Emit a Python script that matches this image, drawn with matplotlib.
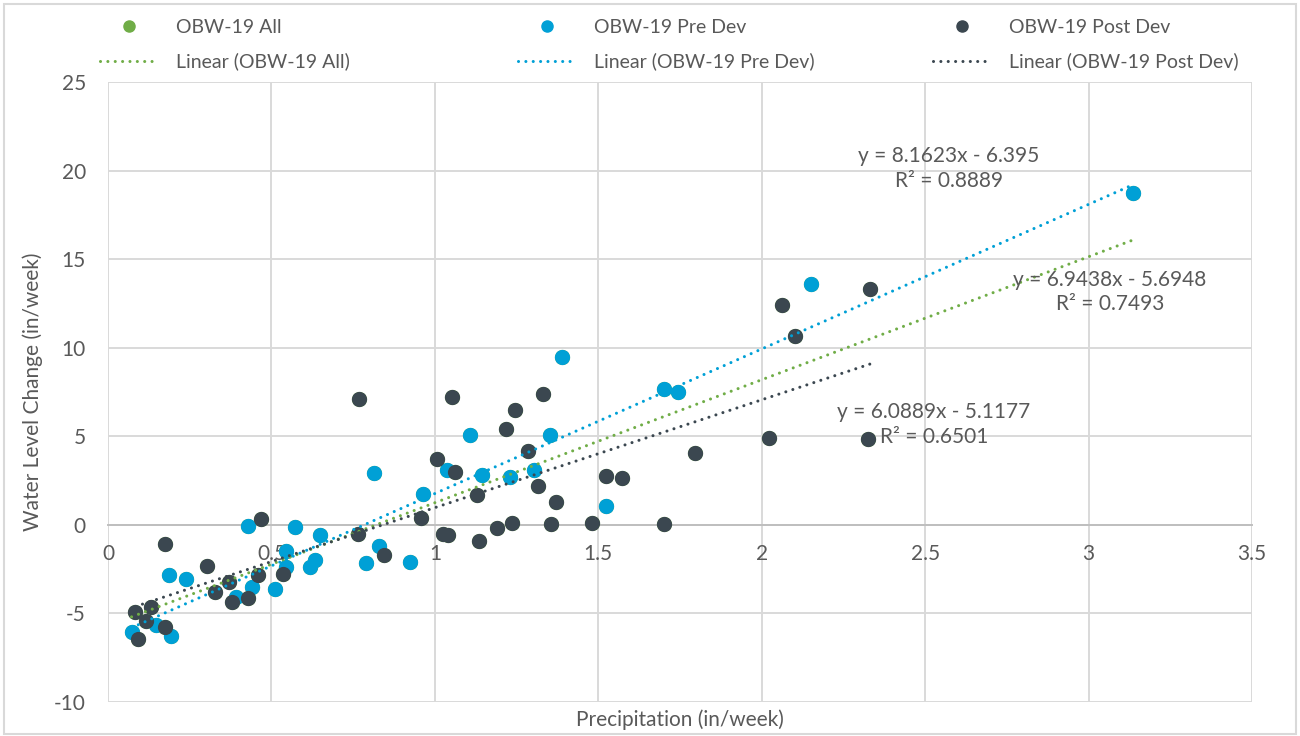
import matplotlib
matplotlib.use("Agg")
import matplotlib.pyplot as plt
import numpy as np
from matplotlib.lines import Line2D
from matplotlib.patches import Rectangle

plt.rcParams['font.family'] = ['Lato', 'DejaVu Sans']
plt.rcParams['axes.unicode_minus'] = False

# OBW-19 pre development (precip in/week, water level change in/week)
pre_x = [0.427, 0.573, 0.649, 0.546, 0.546, 0.633, 0.617, 0.187, 0.239, 0.512,
         0.439, 0.392, 0.147, 0.072, 0.194, 1.108, 1.353, 0.814, 1.037, 1.143,
         1.229, 1.304, 0.964, 0.829, 0.789, 0.925, 1.701, 1.744, 1.525, 2.150,
         3.136, 1.390]
pre_y = [-0.07, -0.14, -0.59, -1.50, -2.36, -2.00, -2.40, -2.85, -3.03, -3.62,
         -3.51, -4.08, -5.65, -6.05, -6.29, 5.07, 5.06, 2.91, 3.08, 2.80,
         2.70, 3.08, 1.72, -1.21, -2.18, -2.08, 7.69, 7.50, 1.05, 13.57,
         18.73, 9.47]

# OBW-19 post development
post_x = [0.469, 0.173, 0.304, 0.535, 0.459, 0.370, 0.328, 0.378, 0.427, 0.084,
          0.130, 0.116, 0.174, 0.092, 0.769, 1.052, 1.332, 1.244, 1.219, 1.005,
          1.284, 1.062, 1.315, 1.130, 1.371, 0.959, 0.765, 1.237, 1.354, 1.191,
          1.025, 1.040, 1.134, 0.843, 2.023, 1.797, 1.522, 1.571, 1.481, 1.700,
          2.332, 2.061, 2.102, 2.324]
post_y = [0.31, -1.08, -2.32, -2.78, -2.85, -3.21, -3.80, -4.37, -4.11, -4.93,
          -4.64, -5.44, -5.75, -6.43, 7.09, 7.22, 7.39, 6.47, 5.41, 3.72,
          4.15, 3.00, 2.21, 1.71, 1.29, 0.41, -0.54, 0.10, 0.03, -0.18,
          -0.54, -0.59, -0.93, -1.68, 4.92, 4.06, 2.74, 2.65, 0.12, 0.07,
          13.29, 12.40, 10.67, 4.83]

all_x = pre_x + post_x
all_y = pre_y + post_y

# trendline equations as printed on the chart
fits = {
    "all": (6.9438, -5.6948, 0.7493),
    "pre": (8.1623, -6.395, 0.8889),
    "post": (6.0889, -5.1177, 0.6501),
}

GREEN = "#70AD47"
BLUE = "#00A0D6"
DARK = "#3B4750"
TXT = "#595959"
GRID = "#D9D9D9"

fig = plt.figure(figsize=(13, 7.36), dpi=100)
ax = fig.add_axes([0.0831, 0.0462, 0.8800, 0.8424])

ax.set_xlim(0, 3.5)
ax.set_ylim(-10, 25)
ax.set_xticks(np.arange(0, 3.51, 0.5))
ax.set_yticks(np.arange(-10, 26, 5))
ax.set_xticklabels(["0", "0.5", "1", "1.5", "2", "2.5", "3", "3.5"])
ax.grid(True, color=GRID, lw=1.4, zorder=0)
ax.set_axisbelow(True)
for s in ["top", "right", "left"]:
    ax.spines[s].set_visible(False)
ax.spines["bottom"].set_position(("data", 0))
ax.spines["bottom"].set_color("#BFBFBF")
ax.spines["bottom"].set_linewidth(1.4)
ax.tick_params(axis="both", length=0, labelsize=15, labelcolor=TXT)
ax.tick_params(axis="x", pad=14)
ax.tick_params(axis="y", pad=16)

ms = 120
ax.scatter(all_x, all_y, s=ms, color=GREEN, zorder=3, linewidths=0)
ax.scatter(pre_x, pre_y, s=ms, color=BLUE, zorder=4, linewidths=0)
ax.scatter(post_x, post_y, s=ms, color=DARK, zorder=5, linewidths=0)

dot = (0, (0.01, 2.4))
for key, xs, col in [("all", all_x, GREEN), ("pre", pre_x, BLUE), ("post", post_x, DARK)]:
    m, b, r2 = fits[key]
    lx = np.array([min(xs), max(xs)])
    ax.plot(lx, m * lx + b, color=col, lw=2.2, ls=dot, dash_capstyle="round", zorder=6)

def eq_text(m, b):
    return "y = {}x - {}".format(m, abs(b))

lab_pos = {"pre": (2.573, 20.11), "all": (3.065, 13.14), "post": (2.527, 5.65)}
for key, (tx, ty) in lab_pos.items():
    m, b, r2 = fits[key]
    ax.text(tx, ty, eq_text(m, b) + "\nR\u00b2 = " + "{:.4f}".format(r2),
            ha="center", va="center", fontsize=15, color=TXT, linespacing=1.3, zorder=7)

ax.set_xlabel("Precipitation (in/week)", fontsize=15, color=TXT, va="center")
ax.xaxis.set_label_coords(0.5, -0.029)
ax.set_ylabel("Water Level Change (in/week)", fontsize=15, color=TXT, va="center")
ax.yaxis.set_label_coords(-0.0656, 0.5)

# legend: three columns, marker row on top, trendline row below
names = ["OBW-19 All", "OBW-19 Pre Dev", "OBW-19 Post Dev"]
cols = [GREEN, BLUE, DARK]
lefts = [100, 518, 933]
for name, col, lx in zip(names, cols, lefts):
    h = [Line2D([], [], ls="none", marker="o", ms=8, color=col),
         Line2D([], [], color=col, lw=2.2, ls=dot, dash_capstyle="round")]
    lg = fig.legend(h, [name, "Linear (" + name + ")"], loc="upper left",
                    bbox_to_anchor=(lx / 1300, 1 - 19 / 736), frameon=False,
                    fontsize=14, handlelength=3.0, handletextpad=0.9,
                    labelspacing=0.85, borderaxespad=0, borderpad=0)
    for t in lg.get_texts():
        t.set_color(TXT)

fig.patches.append(Rectangle((0.003, 0.003), 0.994, 0.992, transform=fig.transFigure,
                             fill=False, edgecolor=GRID, lw=1.5))

fig.savefig("out.png", dpi=100)
